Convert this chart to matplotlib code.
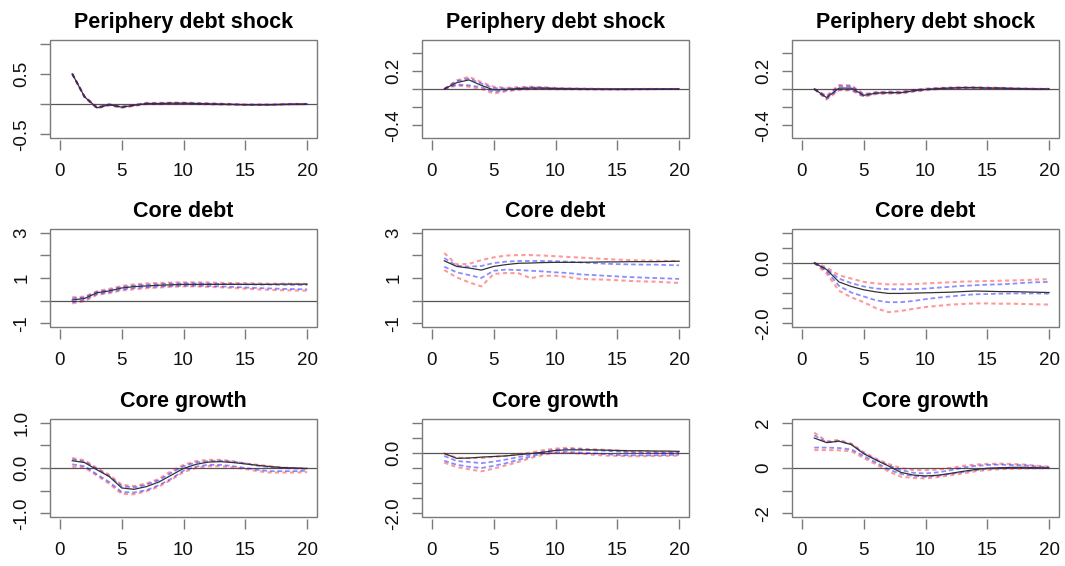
import matplotlib.pyplot as plt
from matplotlib.patches import Rectangle
import numpy as np

plt.rcParams['font.family'] = ['Liberation Sans', 'DejaVu Sans']

horizon = np.arange(1, 21)

# each panel: [median, lower 68, upper 68, lower 90, upper 90]
m1_periph = [
    [0.50, 0.12, -0.06, -0.01, -0.05, -0.02, 0.01, 0.01, 0.015, 0.015, 0.01, 0.005, 0.0, -0.005, -0.01, -0.01, -0.01, -0.005, 0.0, 0.0],
    [0.50, 0.115, -0.065, -0.015, -0.055, -0.025, 0.005, 0.005, 0.01, 0.01, 0.005, 0.0, -0.005, -0.01, -0.012, -0.012, -0.012, -0.008, -0.003, -0.002],
    [0.50, 0.125, -0.055, -0.005, -0.045, -0.015, 0.015, 0.015, 0.02, 0.02, 0.015, 0.01, 0.005, 0.0, -0.008, -0.008, -0.008, -0.002, 0.003, 0.002],
    [0.50, 0.11, -0.07, -0.02, -0.06, -0.03, 0.0, 0.0, 0.005, 0.005, 0.0, -0.005, -0.008, -0.012, -0.015, -0.015, -0.014, -0.01, -0.005, -0.004],
    [0.50, 0.13, -0.05, 0.0, -0.04, -0.01, 0.02, 0.02, 0.025, 0.025, 0.02, 0.015, 0.008, 0.002, -0.005, -0.005, -0.006, 0.0, 0.005, 0.004],
]
m2_periph = [
    [0, 0.07, 0.10, 0.04, -0.01, -0.005, 0.005, 0.01, 0.01, 0.005, 0.003, 0.002, 0.0, 0.0, 0.0, 0.0, 0.0, 0.0, 0.0, 0.0],
    [0, 0.05, 0.04, 0.02, -0.03, -0.015, -0.002, 0.004, 0.005, 0.002, 0.0, -0.002, -0.003, -0.004, -0.004, -0.003, -0.002, -0.001, 0.0, 0.0],
    [0, 0.085, 0.115, 0.06, 0.01, 0.005, 0.012, 0.018, 0.015, 0.01, 0.006, 0.004, 0.002, 0.0, -0.002, -0.002, 0.0, 0.0, 0.0, 0.0],
    [0, 0.04, 0.025, 0.0, -0.05, -0.025, -0.008, 0.0, 0.0, -0.002, -0.003, -0.004, -0.005, -0.006, -0.006, -0.005, -0.004, -0.002, -0.001, 0.0],
    [0, 0.095, 0.135, 0.075, 0.025, 0.012, 0.02, 0.025, 0.02, 0.012, 0.008, 0.005, 0.003, 0.001, 0.0, 0.0, 0.001, 0.001, 0.0, 0.0],
]
m3_periph = [
    [0, -0.095, 0.01, 0.01, -0.07, -0.045, -0.04, -0.04, -0.02, -0.005, 0.005, 0.01, 0.015, 0.015, 0.01, 0.01, 0.005, 0.003, 0.0, 0.0],
    [0, -0.105, -0.005, -0.005, -0.078, -0.05, -0.045, -0.045, -0.025, -0.01, 0.002, 0.007, 0.012, 0.012, 0.008, 0.007, 0.003, 0.001, -0.002, -0.001],
    [0, -0.085, 0.03, 0.03, -0.062, -0.04, -0.035, -0.035, -0.015, 0.0, 0.008, 0.013, 0.017, 0.017, 0.013, 0.012, 0.008, 0.005, 0.002, 0.001],
    [0, -0.115, -0.015, -0.015, -0.085, -0.055, -0.05, -0.05, -0.03, -0.014, -0.002, 0.004, 0.009, 0.009, 0.005, 0.004, 0.001, -0.001, -0.003, -0.002],
    [0, -0.075, 0.045, 0.04, -0.055, -0.035, -0.03, -0.03, -0.01, 0.004, 0.012, 0.016, 0.02, 0.02, 0.016, 0.014, 0.01, 0.007, 0.003, 0.002],
]

m1_core_debt = [
    [0.03, 0.10, 0.35, 0.43, 0.56, 0.62, 0.65, 0.68, 0.70, 0.72, 0.72, 0.72, 0.72, 0.72, 0.72, 0.72, 0.72, 0.73, 0.73, 0.73],
    [-0.06, 0.04, 0.30, 0.38, 0.50, 0.56, 0.60, 0.63, 0.65, 0.66, 0.66, 0.65, 0.63, 0.61, 0.58, 0.56, 0.54, 0.52, 0.51, 0.50],
    [0.09, 0.14, 0.38, 0.47, 0.60, 0.66, 0.70, 0.72, 0.75, 0.76, 0.76, 0.75, 0.74, 0.73, 0.72, 0.71, 0.71, 0.70, 0.70, 0.69],
    [-0.12, -0.02, 0.26, 0.33, 0.45, 0.50, 0.55, 0.58, 0.61, 0.63, 0.63, 0.61, 0.59, 0.56, 0.53, 0.50, 0.48, 0.46, 0.45, 0.44],
    [0.15, 0.18, 0.42, 0.52, 0.65, 0.72, 0.76, 0.78, 0.80, 0.81, 0.81, 0.80, 0.79, 0.78, 0.77, 0.76, 0.75, 0.75, 0.74, 0.74],
]
m2_core_debt = [
    [1.76, 1.51, 1.44, 1.35, 1.51, 1.59, 1.65, 1.66, 1.68, 1.69, 1.69, 1.69, 1.70, 1.71, 1.71, 1.72, 1.72, 1.72, 1.73, 1.74],
    [1.50, 1.25, 1.13, 1.00, 1.32, 1.37, 1.35, 1.32, 1.29, 1.25, 1.22, 1.16, 1.13, 1.10, 1.07, 1.04, 1.02, 1.00, 0.98, 0.96],
    [1.88, 1.54, 1.50, 1.53, 1.66, 1.72, 1.75, 1.75, 1.75, 1.74, 1.72, 1.69, 1.66, 1.63, 1.61, 1.60, 1.59, 1.59, 1.57, 1.56],
    [1.35, 1.03, 0.81, 0.63, 1.18, 1.22, 1.21, 0.99, 1.10, 1.10, 1.04, 0.96, 0.94, 0.93, 0.90, 0.87, 0.85, 0.84, 0.81, 0.78],
    [2.10, 1.60, 1.62, 1.79, 1.91, 1.99, 2.01, 2.01, 1.99, 1.96, 1.93, 1.90, 1.87, 1.84, 1.81, 1.79, 1.77, 1.76, 1.75, 1.75],
]
m3_core_debt = [
    [0, -0.22, -0.63, -0.78, -0.89, -0.96, -1.01, -1.01, -1.00, -0.99, -0.98, -0.97, -0.95, -0.93, -0.94, -0.95, -0.95, -0.96, -0.97, -0.98],
    [0, -0.27, -0.76, -0.98, -1.11, -1.24, -1.30, -1.30, -1.26, -1.20, -1.15, -1.11, -1.07, -1.04, -1.03, -1.02, -1.01, -1.01, -1.01, -1.02],
    [0, -0.20, -0.52, -0.67, -0.78, -0.85, -0.87, -0.87, -0.87, -0.85, -0.82, -0.79, -0.76, -0.74, -0.72, -0.71, -0.69, -0.66, -0.64, -0.63],
    [0, -0.35, -0.92, -1.14, -1.30, -1.50, -1.63, -1.59, -1.52, -1.46, -1.42, -1.38, -1.36, -1.34, -1.34, -1.35, -1.35, -1.36, -1.37, -1.38],
    [0, -0.15, -0.41, -0.52, -0.63, -0.68, -0.71, -0.71, -0.70, -0.68, -0.66, -0.64, -0.62, -0.61, -0.60, -0.59, -0.58, -0.57, -0.55, -0.54],
]

m1_core_growth = [
    [0.16, 0.12, -0.04, -0.19, -0.44, -0.47, -0.41, -0.31, -0.16, -0.01, 0.08, 0.13, 0.14, 0.12, 0.09, 0.06, 0.03, 0.01, 0.0, -0.01],
    [0.08, 0.04, -0.14, -0.31, -0.53, -0.54, -0.49, -0.38, -0.24, -0.06, 0.03, 0.07, 0.07, 0.04, 0.0, -0.04, -0.07, -0.07, -0.07, -0.06],
    [0.19, 0.14, -0.02, -0.18, -0.40, -0.43, -0.37, -0.27, -0.11, 0.04, 0.12, 0.15, 0.16, 0.14, 0.10, 0.05, 0.02, 0.0, -0.01, -0.02],
    [0.03, 0.01, -0.17, -0.35, -0.57, -0.58, -0.51, -0.41, -0.26, -0.09, 0.0, 0.04, 0.04, 0.01, -0.02, -0.07, -0.10, -0.10, -0.10, -0.09],
    [0.22, 0.17, 0.0, -0.15, -0.37, -0.40, -0.34, -0.24, -0.07, 0.07, 0.15, 0.18, 0.18, 0.15, 0.10, 0.07, 0.04, 0.01, 0.0, -0.01],
]
m2_core_growth = [
    [-0.02, -0.18, -0.17, -0.14, -0.12, -0.10, -0.06, -0.02, 0.02, 0.08, 0.10, 0.10, 0.10, 0.09, 0.08, 0.07, 0.07, 0.06, 0.06, 0.05],
    [-0.26, -0.39, -0.46, -0.50, -0.43, -0.34, -0.23, -0.12, -0.02, 0.02, 0.03, 0.01, -0.01, -0.04, -0.07, -0.08, -0.08, -0.08, -0.07, -0.06],
    [-0.10, -0.27, -0.30, -0.34, -0.29, -0.22, -0.14, -0.06, 0.04, 0.10, 0.13, 0.12, 0.09, 0.07, 0.05, 0.02, 0.01, 0.01, 0.0, 0.0],
    [-0.32, -0.47, -0.54, -0.61, -0.52, -0.41, -0.30, -0.17, -0.06, 0.0, 0.0, -0.02, -0.06, -0.09, -0.10, -0.11, -0.11, -0.10, -0.10, -0.09],
    [-0.02, -0.16, -0.17, -0.17, -0.13, -0.10, -0.04, 0.01, 0.09, 0.14, 0.17, 0.14, 0.12, 0.10, 0.08, 0.06, 0.05, 0.04, 0.03, 0.03],
]
m3_core_growth = [
    [1.32, 1.12, 1.18, 1.03, 0.63, 0.35, 0.09, -0.19, -0.31, -0.35, -0.32, -0.24, -0.15, -0.07, -0.01, 0.01, 0.03, 0.03, 0.01, 0.0],
    [0.90, 0.90, 0.88, 0.82, 0.53, 0.24, -0.06, -0.26, -0.35, -0.38, -0.34, -0.26, -0.18, -0.10, -0.04, -0.01, 0.0, 0.01, 0.0, 0.0],
    [1.44, 1.13, 1.19, 1.05, 0.66, 0.37, 0.12, -0.09, -0.21, -0.24, -0.19, -0.10, 0.01, 0.09, 0.13, 0.15, 0.13, 0.12, 0.07, 0.04],
    [0.79, 0.79, 0.78, 0.74, 0.44, 0.16, -0.15, -0.38, -0.44, -0.46, -0.40, -0.32, -0.24, -0.15, -0.09, -0.05, -0.03, -0.02, -0.01, -0.01],
    [1.56, 1.18, 1.24, 1.07, 0.70, 0.41, 0.18, 0.0, -0.09, -0.10, -0.07, 0.0, 0.09, 0.15, 0.18, 0.19, 0.18, 0.15, 0.10, 0.06],
]

titles = ['Periphery debt shock', 'Core debt', 'Core growth']
panels = [
    [m1_periph, m2_periph, m3_periph],
    [m1_core_debt, m2_core_debt, m3_core_debt],
    [m1_core_growth, m2_core_growth, m3_core_growth],
]
# y range, tick positions and the tick labels that get printed
y_axes = [
    [((-0.5, 1.0), [-0.5, 0, 0.5, 1.0], ['-0.5', '', '0.5', '']),
     ((-0.5, 0.5), [-0.4, -0.2, 0, 0.2, 0.4], ['-0.4', '', '', '0.2', '']),
     ((-0.5, 0.5), [-0.4, -0.2, 0, 0.2, 0.4], ['-0.4', '', '', '0.2', ''])],
    [((-1, 3), [-1, 0, 1, 2, 3], ['-1', '', '1', '', '3']),
     ((-1, 3), [-1, 0, 1, 2, 3], ['-1', '', '1', '', '3']),
     ((-2, 1), [-2, -1.5, -1, -0.5, 0, 0.5, 1], ['-2.0', '', '', '', '0.0', '', ''])],
    [((-1, 1), [-1, -0.5, 0, 0.5, 1], ['-1.0', '', '0.0', '', '1.0']),
     ((-2, 1), [-2, -1.5, -1, -0.5, 0, 0.5, 1], ['-2.0', '', '', '', '0.0', '', '']),
     ((-2, 2), [-2, -1, 0, 1, 2], ['-2', '', '0', '', '2'])],
]

W, H = 1065, 566
col_left = [50, 422, 792]
col_width = 267
row_top = [40, 229, 419]
row_height = 98


def plot_irf(ax, title, series, ylim, yticks, ylabels):
    med, lo68, hi68, lo90, hi90 = series
    ax.axhline(0, color='#555555', lw=0.9, zorder=1)
    for band in (lo90, hi90):
        ax.plot(horizon, band, color='red', alpha=0.4, lw=1.5, dashes=(2, 1.6), zorder=2)
    for band in (lo68, hi68):
        ax.plot(horizon, band, color='blue', alpha=0.45, lw=1.3, dashes=(2.6, 1.6), zorder=3)
    ax.plot(horizon, med, color='#333333', lw=0.9, zorder=4)

    lo, hi = ylim
    pad = 0.04 * (hi - lo)
    ax.set_ylim(lo - pad, hi + pad)
    ax.set_xlim(-0.8, 20.8)
    ax.set_xticks([0, 5, 10, 15, 20])
    ax.set_yticks(yticks)
    ax.set_yticklabels(ylabels, rotation=90, va='center')
    ax.set_title(title, fontsize=15.5, fontweight='bold', pad=8.5)

    # R-style axes: ticks hang outside a separate box
    for side in ('top', 'right', 'bottom', 'left'):
        ax.spines[side].set_visible(False)
    ax.spines['bottom'].set_position(('outward', 1.5))
    ax.add_patch(Rectangle((0, 0), 1, 1, transform=ax.transAxes, fill=False,
                           edgecolor='#7a7a7a', lw=1.0, clip_on=False, zorder=5))
    ax.tick_params(axis='both', colors='#7a7a7a', labelcolor='#111111',
                   length=7.2, width=1.0, labelsize=13.5)
    ax.tick_params(axis='x', pad=9.5)
    ax.tick_params(axis='y', pad=7)


fig = plt.figure(figsize=(W / 100, H / 100), dpi=100)
for r in range(3):
    for c in range(3):
        ax = fig.add_axes([col_left[c] / W, 1 - (row_top[r] + row_height) / H,
                           col_width / W, row_height / H])
        ylim, yticks, ylabels = y_axes[r][c]
        plot_irf(ax, titles[r], panels[r][c], ylim, yticks, ylabels)

fig.savefig('out.png', dpi=100)
